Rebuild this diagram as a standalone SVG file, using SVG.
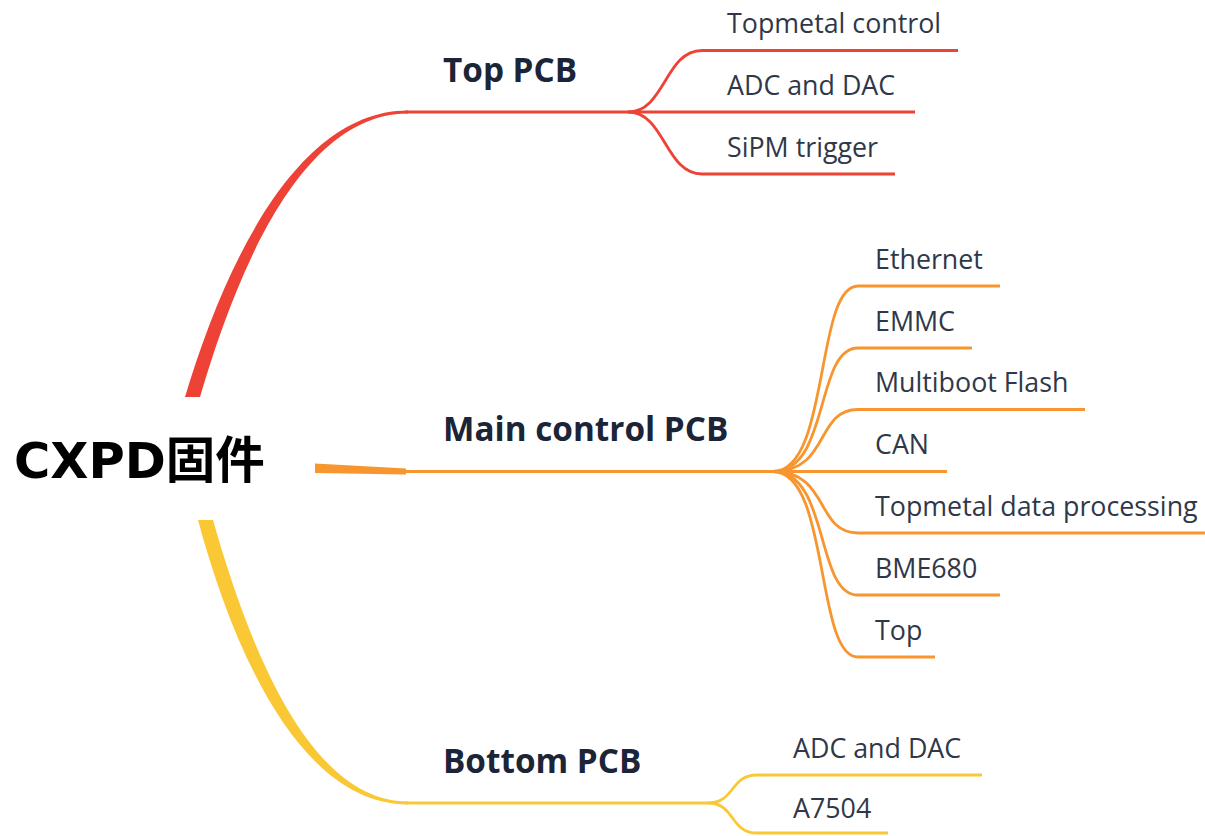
<svg xmlns="http://www.w3.org/2000/svg" width="1205" height="836" viewBox="0 0 1205 836">
  <style>
    .root { font-family: "DejaVu Sans", "Noto Sans CJK SC", sans-serif; font-weight: 700; font-size: 49.5px; fill: #000000; }
    .main { font-family: "Open Sans", "Liberation Sans", sans-serif; font-weight: 700; font-size: 33.3px; fill: #1b2537; }
    .sub { font-family: "Open Sans", "Liberation Sans", sans-serif; font-weight: 400; font-size: 26.8px; fill: #2f3849; }
    .line { fill: none; stroke-width: 2.8; stroke-linecap: butt; }
    .red { stroke: #ef4237; }
    .orange { stroke: #f7962f; }
    .yellow { stroke: #fac834; }
  </style>
  <rect width="1205" height="836" fill="#ffffff"/>

  <g id="connectors">
    <!-- tapered trunks from the root -->
    <path fill="#ef4237" d="M185,397 C223,270 295,110.5 408,110.5 L408,113.5 C300,113.5 236,275 200,397 Z"/>
    <path fill="#f7962f" d="M315,463.5 L406,468.5 L406,474.5 L315,473 Z"/>
    <path fill="#fac834" d="M198,520 C233,650 300,804.5 408,804.5 L408,801.5 C310,801.5 250,650 213,520 Z"/>

    <!-- Top PCB -->
    <path class="line red" d="M405,112 L628,112"/>
    <path class="line red" d="M628,112 C665,112 665,50.5 702,50.5 L958,50.5"/>
    <path class="line red" d="M628,112 L915,112"/>
    <path class="line red" d="M628,112 C665,112 665,174 702,174 L895,174"/>

    <!-- Main control PCB -->
    <path class="line orange" d="M404,471.5 L773,471.5"/>
    <path class="line orange" d="M773,471.5 C830,471.5 815,286 858,286 L1000,286"/>
    <path class="line orange" d="M773,471.5 C830,471.5 815,348 858,348 L972,348"/>
    <path class="line orange" d="M773,471.5 C830,471.5 815,409.5 858,409.5 L1085,409.5"/>
    <path class="line orange" d="M773,471.5 L947,471.5"/>
    <path class="line orange" d="M773,471.5 C830,471.5 815,533 858,533 L1205,533"/>
    <path class="line orange" d="M773,471.5 C830,471.5 815,595 858,595 L1000,595"/>
    <path class="line orange" d="M773,471.5 C830,471.5 815,657 858,657 L935,657"/>

    <!-- Bottom PCB -->
    <path class="line yellow" d="M405,803 L708,803"/>
    <path class="line yellow" d="M708,803 C735,803 730,775 757,775 L982,775"/>
    <path class="line yellow" d="M708,803 C735,803 730,833 757,833 L888,833"/>
  </g>

  <g id="root">
    <text class="root" x="14" y="478">CXPD固件</text>
  </g>

  <g id="top-pcb">
    <text class="main" x="443" y="82">Top PCB</text>
  </g>
  <g id="top-topmetal-control"><text class="sub" x="727" y="33">Topmetal control</text></g>
  <g id="top-adc-dac"><text class="sub" x="727" y="95">ADC and DAC</text></g>
  <g id="top-sipm-trigger"><text class="sub" x="727" y="157">SiPM trigger</text></g>

  <g id="main-control-pcb">
    <text class="main" x="443" y="441">Main control PCB</text>
  </g>
  <g id="main-ethernet"><text class="sub" x="875" y="269">Ethernet</text></g>
  <g id="main-emmc"><text class="sub" x="875" y="331">EMMC</text></g>
  <g id="main-multiboot-flash"><text class="sub" x="875" y="392">Multiboot Flash</text></g>
  <g id="main-can"><text class="sub" x="875" y="454">CAN</text></g>
  <g id="main-topmetal-data"><text class="sub" x="875" y="516">Topmetal data processing</text></g>
  <g id="main-bme680"><text class="sub" x="875" y="578">BME680</text></g>
  <g id="main-top"><text class="sub" x="875" y="640">Top</text></g>

  <g id="bottom-pcb">
    <text class="main" x="443" y="773">Bottom PCB</text>
  </g>
  <g id="bottom-adc-dac"><text class="sub" x="793" y="758">ADC and DAC</text></g>
  <g id="bottom-a7504"><text class="sub" x="793" y="818">A7504</text></g>
</svg>
